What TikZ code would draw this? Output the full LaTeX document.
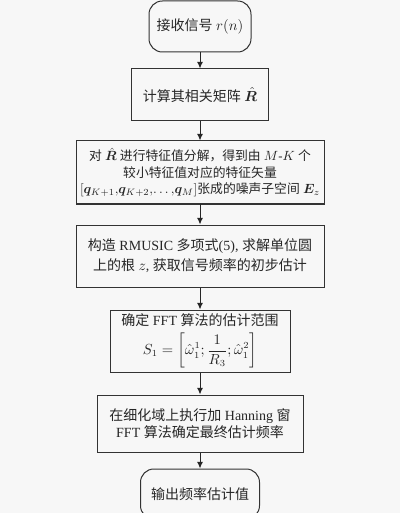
\documentclass[tikz,border=0pt]{standalone}
\usepackage{amsmath}
\usepackage{bm}
\usepackage{fontspec}
\setmainfont{Liberation Serif}
\newfontfamily\cjk{Noto Sans CJK SC}
\usetikzlibrary{positioning,arrows.meta}

\newcommand{\zh}[1]{{\cjk #1}}

\tikzset{
  proc/.style={draw=black!80, line width=0.75pt, rectangle, align=center, inner sep=2pt, text=black!85, font=\fontsize{10.5}{13}\selectfont},
  term/.style={proc, rounded corners=10pt},
  arr/.style={-{Latex[length=5pt,width=4.5pt]}, line width=0.75pt, draw=black!85}
}

\begin{document}
\begin{tikzpicture}

  \fill[black!3] (0,0) rectangle (300pt,-384.75pt);
  \useasboundingbox (0,0) rectangle (300pt,-384.75pt);

  % Start and steps
  \node[term, minimum width=76.5pt, minimum height=38.25pt] (recv) at (150pt,-19.875pt) {\zh{接收信号} $r(n)$};

  \node[proc, below=12pt of recv, minimum width=102.75pt, minimum height=39pt] (corr) {\zh{计算其相关矩阵} $\hat{\bm R}$};

  \node[proc, below=14.25pt of corr, minimum width=186pt, minimum height=47.25pt, font=\fontsize{9.6}{12.5}\selectfont] (eig)
    {\zh{对} $\hat{\bm R}$ \zh{进行特征值分解，得到由} $M$-$K$ \zh{个}\\
     \zh{较小特征值对应的特征矢量}\\
     $[\bm q_{K+1},\!\bm q_{K+2},\!\dots,\!\bm q_M]$\zh{张成的噪声子空间} $\bm E_z$};

  \node[proc, below=15pt of eig, minimum width=186pt, minimum height=46.5pt, font=\fontsize{10.5}{15}\selectfont] (poly)
    {\zh{构造} RMUSIC \zh{多项式}(5), \zh{求解单位圆}\\
     \zh{上的根} $z$, \zh{获取信号频率的初步估计}};

  \node[proc, below=16.5pt of poly, minimum width=135pt, minimum height=46.5pt] (range)
    {\zh{确定} FFT \zh{算法的估计范围}\\[4pt]
     $\displaystyle S_1=\left[\hat\omega_1^1;\frac{1}{R_3};\hat\omega_1^2\right]$};

  \node[proc, below=16.5pt of range, minimum width=154.5pt, minimum height=42.75pt] (fft)
    {\zh{在细化域上执行加} Hanning \zh{窗}\\
     FFT \zh{算法确定最终估计频率}};

  % End
  \node[term, below=12pt of fft, minimum width=89.25pt, minimum height=37.5pt] (out) {\zh{输出频率估计值}};

  % Arrows
  \foreach \a/\b in {recv/corr, corr/eig, eig/poly, poly/range, range/fft, fft/out}
    \draw[arr] (\a) -- (\b);

\end{tikzpicture}
\end{document}
